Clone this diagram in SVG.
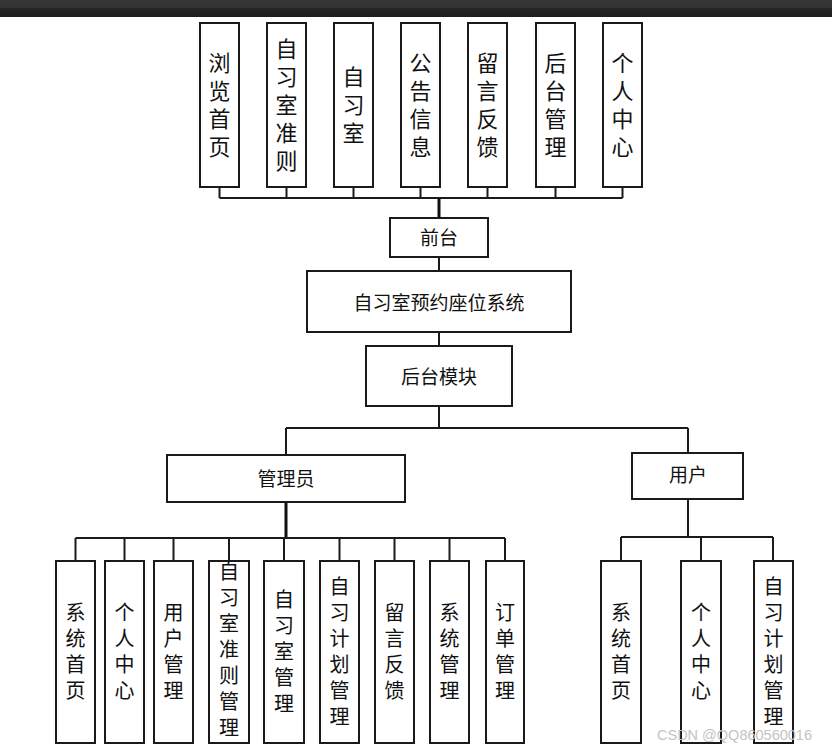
<svg xmlns="http://www.w3.org/2000/svg" width="832" height="750" viewBox="0 0 832 750">
<defs>
<linearGradient id="bar" x1="0" y1="0" x2="0" y2="1">
<stop offset="0" stop-color="#363636"/><stop offset="0.45" stop-color="#333333"/><stop offset="0.5" stop-color="#262626"/><stop offset="1" stop-color="#1e1e1e"/>
</linearGradient>
</defs>
<style>
.box{fill:#ffffff;stroke:#1a1a1a;stroke-width:2}
.ln{fill:none;stroke:#1a1a1a;stroke-width:2}
.tk{fill:none;stroke:#111;stroke-width:3}
.t{font-family:"Noto Sans CJK SC","Noto Sans",sans-serif;fill:#111;text-anchor:middle}
.v1{font-size:22px;writing-mode:vertical-rl;letter-spacing:6px}
.v2{font-size:20px;writing-mode:vertical-rl;letter-spacing:6px}
.h{font-size:19px}
.wm{font-family:"Liberation Sans",Arial,sans-serif;font-size:14.5px;fill:#c4c4c4}
</style>
<rect x="0" y="0" width="832" height="750" fill="#ffffff"/>
<rect x="0" y="0" width="832" height="17" fill="url(#bar)"/>

<g id="connectors">
<path class="ln" d="M219.5 187V198M286.5 187V198M353.5 187V198M420.5 187V198M487.5 187V198M555.5 187V198M622.5 187V198M219.5 198H622.5"/>
<path class="tk" d="M439 198V218"/>
<path class="ln" d="M439 257V271M439 332V346M439 406V428M286 428H688M286 428V455M688 428V453"/>
<path class="tk" d="M286 502V538"/>
<path class="ln" d="M75.5 538H505M75.5 538V561M124.5 538V561M173.5 538V561M229 538V561M284 538V561M339.5 538V561M394.5 538V561M449.5 538V561M505 538V561"/>
<path class="ln" d="M688 499V537M621 537H773M621 537V561M701 537V561M773 537V561"/>
</g>

<g id="n-liulan"><rect class="box" x="200" y="23" width="39" height="164"/><text class="t v1" x="219.5" y="108">浏览首页</text></g>
<g id="n-zhunze"><rect class="box" x="267" y="23" width="39" height="164"/><text class="t v1" x="286.5" y="108">自习室准则</text></g>
<g id="n-zixishi"><rect class="box" x="334" y="23" width="39" height="164"/><text class="t v1" x="353.5" y="108">自习室</text></g>
<g id="n-gonggao"><rect class="box" x="401" y="23" width="39" height="164"/><text class="t v1" x="420.5" y="108">公告信息</text></g>
<g id="n-liuyan"><rect class="box" x="468" y="23" width="39" height="164"/><text class="t v1" x="487.5" y="108">留言反馈</text></g>
<g id="n-houtai"><rect class="box" x="536" y="23" width="39" height="164"/><text class="t v1" x="555.5" y="108">后台管理</text></g>
<g id="n-geren"><rect class="box" x="603" y="23" width="39" height="164"/><text class="t v1" x="622.5" y="108">个人中心</text></g>

<g id="n-qiantai"><rect class="box" x="390" y="218" width="98" height="39"/><text class="t h" x="439" y="245">前台</text></g>
<g id="n-system"><rect class="box" x="307" y="271" width="264" height="61"/><text class="t h" x="439" y="309.5">自习室预约座位系统</text></g>
<g id="n-backend"><rect class="box" x="366" y="346" width="146" height="60"/><text class="t h" x="439" y="384">后台模块</text></g>
<g id="n-admin"><rect class="box" x="167" y="455" width="238" height="47"/><text class="t h" x="286" y="485.5">管理员</text></g>
<g id="n-user"><rect class="box" x="632" y="453" width="111" height="46"/><text class="t h" x="688" y="482">用户</text></g>

<g id="a-home"><rect class="box" x="56" y="561" width="39" height="182"/><text class="t v2" x="75.5" y="654">系统首页</text></g>
<g id="a-center"><rect class="box" x="105" y="561" width="39" height="182"/><text class="t v2" x="124.5" y="654">个人中心</text></g>
<g id="a-users"><rect class="box" x="154" y="561" width="39" height="182"/><text class="t v2" x="173.5" y="654">用户管理</text></g>
<g id="a-rules"><rect class="box" x="209" y="561" width="40" height="182"/><text class="t v2" x="229" y="652">自习室准则管理</text></g>
<g id="a-rooms"><rect class="box" x="264" y="561" width="40" height="182"/><text class="t v2" x="284" y="654">自习室管理</text></g>
<g id="a-plans"><rect class="box" x="320" y="561" width="39" height="182"/><text class="t v2" x="339.5" y="654">自习计划管理</text></g>
<g id="a-feedback"><rect class="box" x="375" y="561" width="39" height="182"/><text class="t v2" x="394.5" y="654">留言反馈</text></g>
<g id="a-sys"><rect class="box" x="430" y="561" width="39" height="182"/><text class="t v2" x="449.5" y="654">系统管理</text></g>
<g id="a-orders"><rect class="box" x="486" y="561" width="38" height="182"/><text class="t v2" x="505" y="654">订单管理</text></g>

<g id="u-home"><rect class="box" x="601" y="561" width="40" height="182"/><text class="t v2" x="621" y="654">系统首页</text></g>
<g id="u-center"><rect class="box" x="681" y="561" width="40" height="182"/><text class="t v2" x="701" y="654">个人中心</text></g>
<g id="u-plans"><rect class="box" x="754" y="561" width="39" height="182"/><text class="t v2" x="773.5" y="654">自习计划管理</text></g>

<text class="wm" x="657" y="740">CSDN @QQ860560016</text>
</svg>
